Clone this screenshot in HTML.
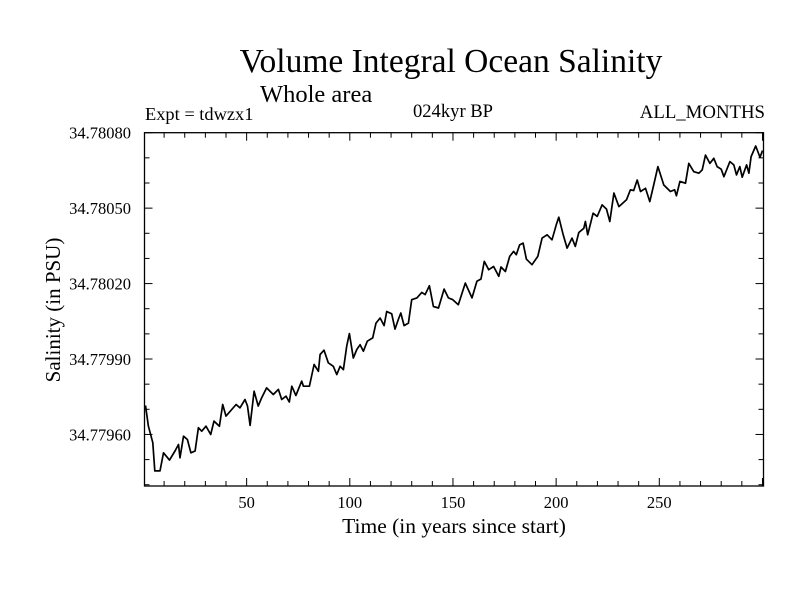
<!DOCTYPE html>
<html><head><meta charset="utf-8">
<style>
html,body{margin:0;padding:0;background:#fff;}
svg{display:block;font-family:"Liberation Serif",serif;}
</style></head>
<body>
<svg id="chart" width="800" height="600" viewBox="0 0 800 600" xmlns="http://www.w3.org/2000/svg">
<rect width="800" height="600" fill="#fff"/>
<text x="451" y="72" font-size="33.5" text-anchor="middle">Volume Integral Ocean Salinity</text>
<text x="260" y="102" font-size="24.5">Whole area</text>
<text x="145" y="120" font-size="18.4">Expt = tdwzx1</text>
<text x="453" y="117" font-size="18.6" text-anchor="middle">024kyr BP</text>
<text x="765" y="118" font-size="18.8" text-anchor="end">ALL_MONTHS</text>
<text x="454" y="533" font-size="21.5" text-anchor="middle">Time (in years since start)</text>
<text x="0" y="0" font-size="21" text-anchor="middle" transform="translate(60,310) rotate(-90)">Salinity (in PSU)</text>
<g id="axes"></g>
<g id="series"></g>
</svg>
<script>
const years = [1,2.4,4.5,5.5,8,9.7,12.6,15.3,17,17.7,19.4,21.3,23,25,26.6,28.2,30.3,32.6,34.2,36.8,38.4,40,44.9,46.8,49.2,50.4,51.7,53.6,55.6,57.3,59.7,62.9,65.4,67,69.1,70.7,71.9,73.9,76.7,77.5,80.4,82.7,84.8,85.6,87.5,89.6,92,93.7,95.3,96.9,98.5,99.8,101.7,103.4,105,106.6,108.5,111.1,112.7,114.7,116.6,117.9,120.3,121.9,123.6,124.7,126.3,128.4,130,132.5,134.9,136.5,138.6,140.5,143,145.7,147.8,149.9,152.6,156,159.2,161.6,163.6,165.2,167.3,169.7,172.2,173.3,175.4,177.5,179.4,180.7,182.3,184,185.6,188.3,191.1,193.2,195.6,198,200.1,201.3,203.4,205.3,207.7,209.3,211,213.4,214.2,215.3,217.9,219.9,222.3,224.4,226,228,230.4,234.1,236,237.6,239.3,240.9,243.3,245.4,247.3,249.3,252.2,255.4,257.4,258.3,260,262.7,264.3,266.7,269.2,270.8,272.4,274.5,276.4,278,280,281.3,284.2,286.1,287.4,289,290.2,292.3,293.4,294.5,296.7,298.8,300];
const anomalies = [-28.5,-36.7,-43.3,-54.5,-54.5,-47.3,-50.2,-46.6,-44,-49.3,-40.7,-42,-47.3,-46.6,-37.3,-38.7,-36.7,-40,-34.7,-36.7,-28.1,-32.7,-28.1,-29.4,-26.1,-28.7,-36.4,-22.8,-28.7,-25.4,-21.5,-24.1,-22.1,-26.1,-24.8,-27.1,-20.8,-24.5,-18.8,-20.8,-20.8,-12.2,-14.9,-8.2,-6.5,-11.5,-12.9,-16.2,-12.9,-14.2,-4.9,0.1,-9.6,-6.2,-4.3,-6.9,-2.9,-1.6,4.3,6.3,3.3,8.9,8,1.9,5.9,8.3,3.3,4.3,13.6,14.3,16.5,15.6,19.1,10.9,10.3,17.8,14.3,13.6,11.6,20.2,14.3,20.9,21.8,28.8,25.5,26.8,22.9,26.6,24.8,30.8,32.8,31.5,35.4,36.1,29.7,27.5,30.8,38.1,39.4,37.4,43.4,46.4,39.4,34.1,38.1,34.8,40.3,42,44.7,39.4,48,46.7,51.3,49.6,44.7,56,50.6,53.3,57.3,57,61.2,56.6,57.9,52.6,59.2,66.5,59.2,56.6,57.3,54.9,60.6,59.9,67.8,64.5,63.9,65.2,71.1,67.8,69.8,66.5,65.5,62.5,68.5,67.2,63.2,66.5,62.3,67.2,63.9,70.5,74.7,70.2,72.9];
const salinity = anomalies.map(a => 34.78 + a*1e-5);
const yTickValues = [34.7796,34.7799,34.7802,34.7805,34.7808];
const yTickLabels = ["34.77960","34.77990","34.78020","34.78050","34.78080"];
const xTickValues = [50,100,150,200,250];
const xTickLabels = ["50","100","150","200","250"];

const L=144.5,R=763.5,T=132.7,B=486;
const X0=0.5,X1=300.5,Y0=34.779395,Y1=34.7808;
const sx=v=>L+(v-X0)/(X1-X0)*(R-L);
const sy=v=>B-(v-Y0)/(Y1-Y0)*(B-T);
const NS="http://www.w3.org/2000/svg";
const axes=document.getElementById('axes');
function mk(tag,attrs,parent){const e=document.createElementNS(NS,tag);for(const k in attrs)e.setAttribute(k,attrs[k]);parent.appendChild(e);return e;}
const frame=mk('rect',{x:L,y:T,width:R-L,height:B-T,fill:'none',stroke:'#000','stroke-width':1.3},axes);


for(let v=10;v<=300;v+=10){
  const x=sx(v),len=(v%50===0)?8:5;
  const t1=mk('line',{x1:x,x2:x,y1:B,y2:B-len,stroke:'#000'},axes);
  
  
  const t2=mk('line',{x1:x,x2:x,y1:T,y2:T+len,stroke:'#000'},axes);
  
  
}
xTickValues.forEach((v,i)=>{
  const t=mk('text',{x:sx(v),y:B+22,'font-size':16.5,'text-anchor':'middle'},axes);
  t.textContent=xTickLabels[i];
  
  
});
for(let k=0;k<=14;k++){
  const v=34.7794+k*1e-4;
  if(v<Y0-1e-9||v>Y1+1e-9)continue;
  const y=sy(v),len=(k%3===2)?8:5;
  const t1=mk('line',{x1:L,x2:L+len,y1:y,y2:y,stroke:'#000'},axes);
  
  
  const t2=mk('line',{x1:R,x2:R-len,y1:y,y2:y,stroke:'#000'},axes);
  
  
}
yTickValues.forEach((v,i)=>{
  const t=mk('text',{x:131,y:sy(v)+6,'font-size':16.5,'text-anchor':'end'},axes);
  t.textContent=yTickLabels[i];
  
  
});
const d=years.map((yr,i)=>(i?'L':'M')+sx(yr).toFixed(1)+','+sy(salinity[i]).toFixed(1)).join('');
const line=mk('path',{d:d,fill:'none',stroke:'#000','stroke-width':1.7,'stroke-linejoin':'round'},document.getElementById('series'));


</script>
</body></html>
